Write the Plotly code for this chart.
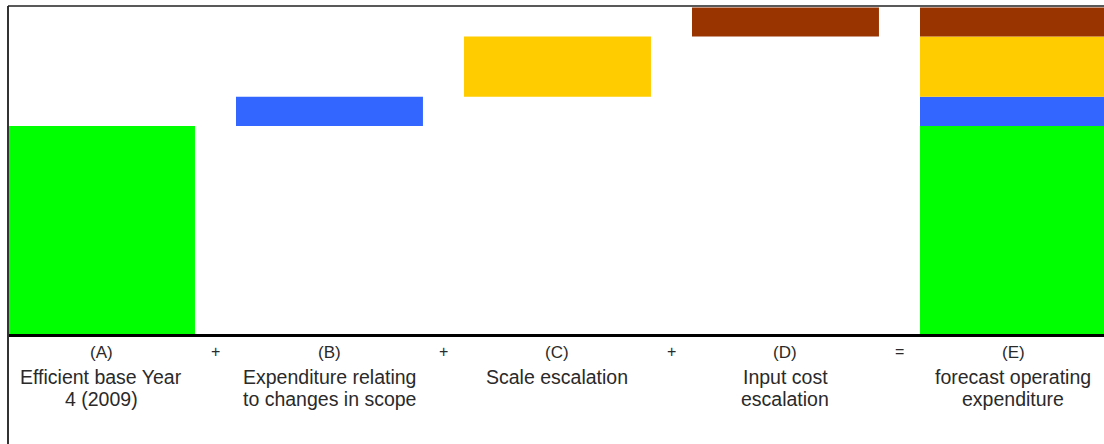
import plotly.graph_objects as go

# ---- data ----
categories = ["(A)", "(B)", "(C)", "(D)", "(E)"]
base_value = 100          # efficient base year 4 (2009)
scope_change = 14         # expenditure relating to changes in scope
scale_escalation = 29     # scale escalation
input_cost_escalation = 14  # input cost escalation
operators = ["+", "+", "+", "="]
desc_line1 = ["Efficient base Year", "Expenditure relating", "Scale escalation",
              "Input cost", "forecast operating"]
desc_line2 = ["4 (2009)", "to changes in scope", "", "escalation", "expenditure"]

total = base_value + scope_change + scale_escalation + input_cost_escalation

GREEN = "#00FF00"
BLUE = "#3366FF"
YELLOW = "#FFCC00"
BROWN = "#993300"
BAR_W = 0.82

fig = go.Figure()
fig.add_trace(go.Bar(x=[categories[0], categories[4]], y=[base_value, base_value],
                     base=[0, 0], marker=dict(color=GREEN, line=dict(width=0)),
                     width=BAR_W))
fig.add_trace(go.Bar(x=[categories[1], categories[4]], y=[scope_change, scope_change],
                     base=[base_value, base_value],
                     marker=dict(color=BLUE, line=dict(width=0)), width=BAR_W))
b2 = base_value + scope_change
fig.add_trace(go.Bar(x=[categories[2], categories[4]], y=[scale_escalation, scale_escalation],
                     base=[b2, b2], marker=dict(color=YELLOW, line=dict(width=0)),
                     width=BAR_W))
b3 = b2 + scale_escalation
fig.add_trace(go.Bar(x=[categories[3], categories[4]],
                     y=[input_cost_escalation, input_cost_escalation],
                     base=[b3, b3], marker=dict(color=BROWN, line=dict(width=0)),
                     width=BAR_W))

PLOT_TOP = 6
AXIS_Y = 334
H = 444


def py(p):
    return (AXIS_Y - p) / (AXIS_Y - PLOT_TOP)


TXT = "#2a2a2a"
annotations = []
for i, c in enumerate(categories):
    annotations.append(dict(x=i, y=py(352.5), xref="x", yref="paper", text=c,
                            showarrow=False, xanchor="center", yanchor="middle",
                            font=dict(size=17, color=TXT)))
    annotations.append(dict(x=i, y=py(376.5), xref="x", yref="paper", text=desc_line1[i],
                            showarrow=False, xanchor="center", yanchor="middle",
                            font=dict(size=19.5, color=TXT)))
    if desc_line2[i]:
        annotations.append(dict(x=i, y=py(398.5), xref="x", yref="paper", text=desc_line2[i],
                                showarrow=False, xanchor="center", yanchor="middle",
                                font=dict(size=19.5, color=TXT)))
for i, op in enumerate(operators):
    annotations.append(dict(x=i + 0.5, y=py(351.5), xref="x", yref="paper", text=op,
                            showarrow=False, xanchor="center", yanchor="middle",
                            font=dict(size=16, color=TXT)))

shapes = [
    dict(type="line", xref="paper", yref="paper", x0=0, x1=0, y0=1, y1=py(H),
         line=dict(color="#333333", width=2)),
    dict(type="line", xref="paper", yref="paper", x0=0, x1=1, y0=1, y1=1,
         line=dict(color="#222222", width=1.5)),
]

fig.update_layout(
    width=1104, height=444,
    margin=dict(l=8, r=0, t=PLOT_TOP, b=H - AXIS_Y, pad=0),
    paper_bgcolor="white", plot_bgcolor="white",
    barmode="overlay", showlegend=False,
    font=dict(family="Arial, 'Liberation Sans', sans-serif", color=TXT),
    annotations=annotations, shapes=shapes,
    xaxis=dict(type="category", categoryorder="array", categoryarray=categories,
               range=[-0.41, 4.397], showticklabels=False, ticks="",
               showgrid=False, zeroline=False, showline=True,
               linecolor="black", linewidth=2.5, fixedrange=True),
    yaxis=dict(range=[0, total * 328 / 326.6], visible=False, showgrid=False,
               zeroline=False, fixedrange=True),
)

fig.write_html("out.html")
